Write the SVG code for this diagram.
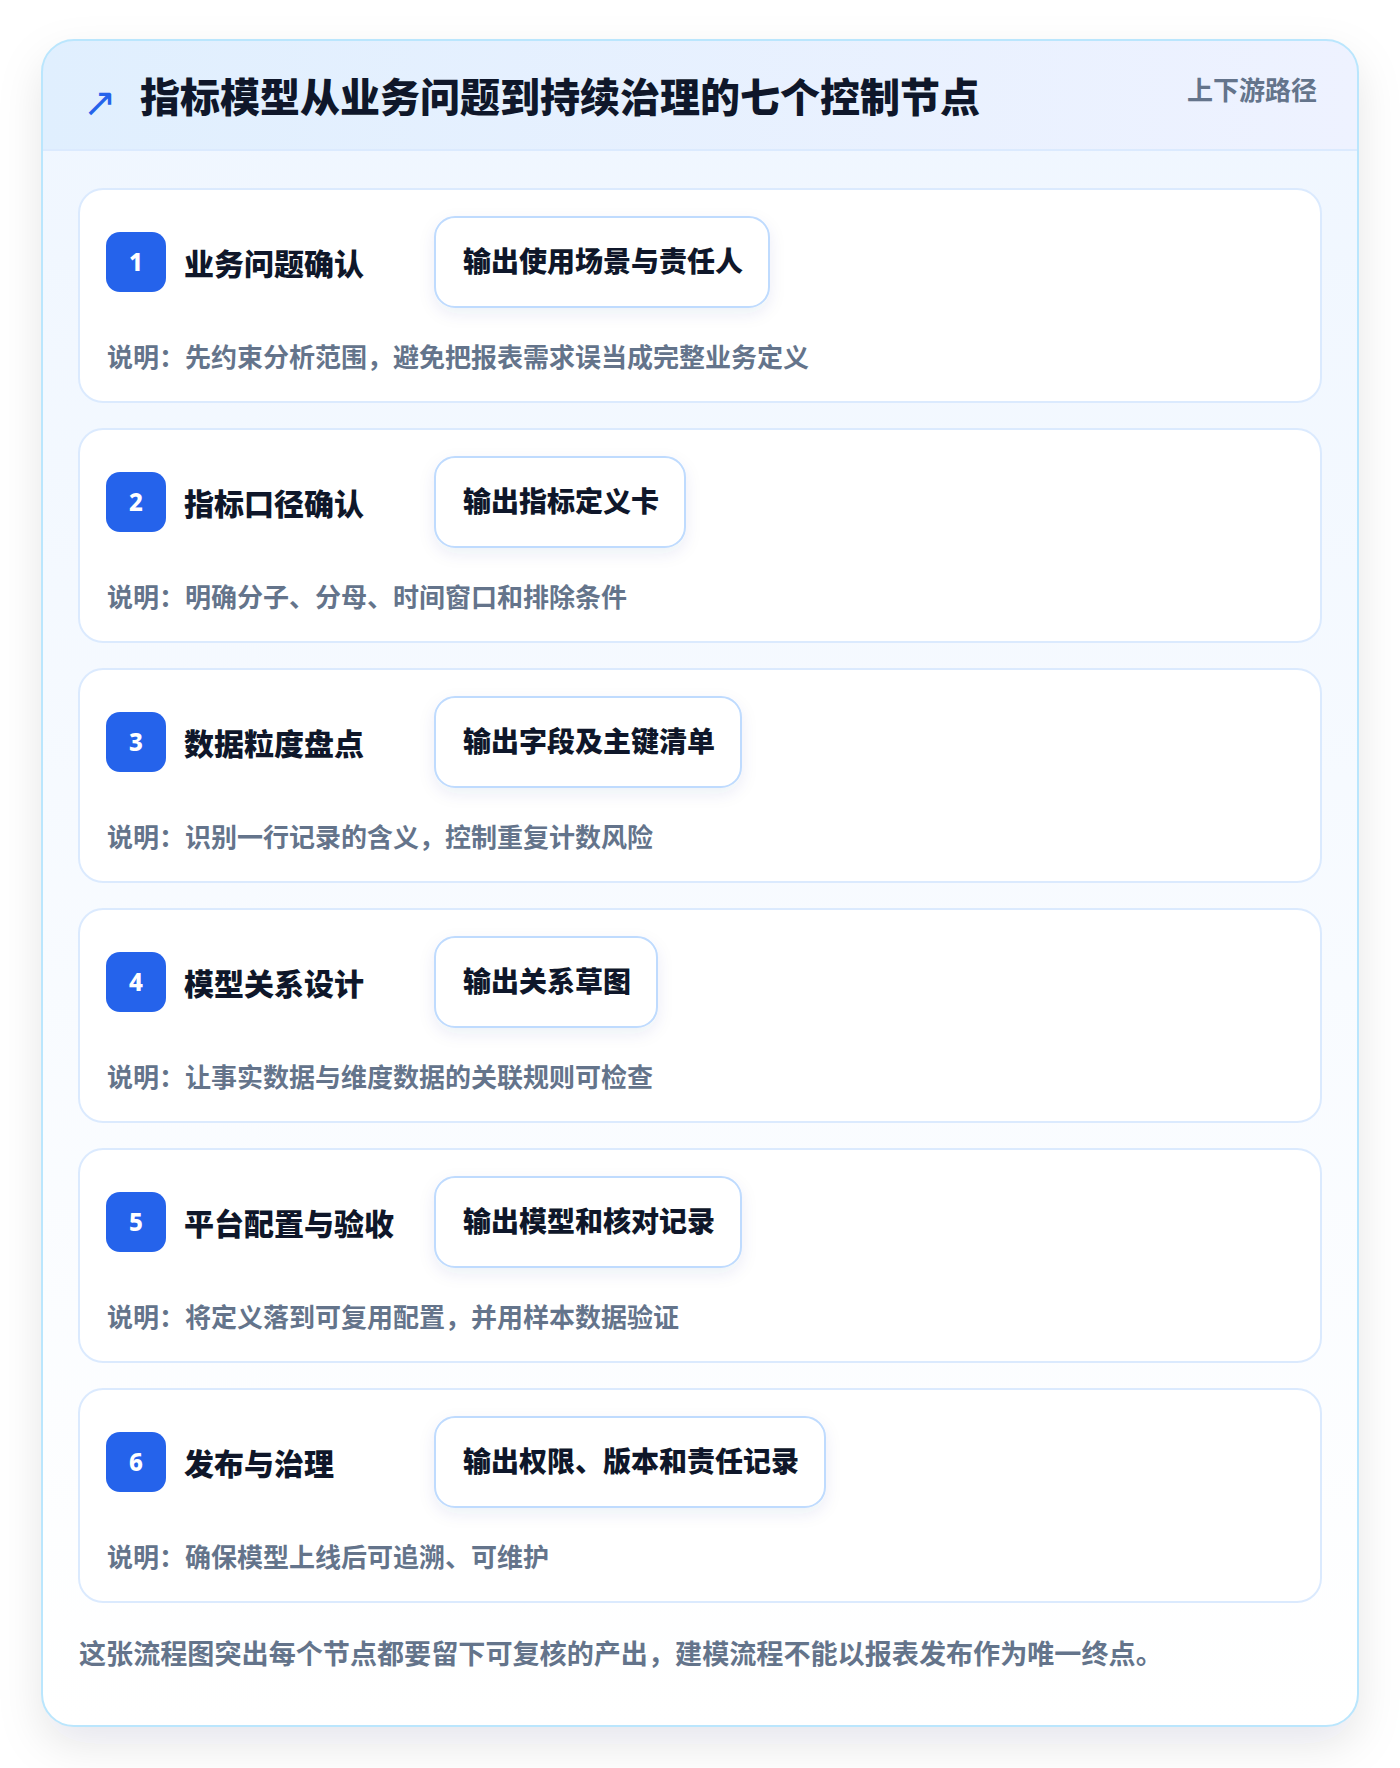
<svg xmlns="http://www.w3.org/2000/svg" width="1400" height="1768" viewBox="0 0 1400 1768">
<defs>
<linearGradient id="hdr" x1="0" y1="0" x2="1" y2="0">
<stop offset="0" stop-color="#e0effe"/>
<stop offset="1" stop-color="#eef2ff"/>
</linearGradient>
<linearGradient id="body" x1="0" y1="0" x2="0" y2="1">
<stop offset="0" stop-color="#eff6ff"/>
<stop offset="1" stop-color="#ffffff"/>
</linearGradient>
<filter id="cardShadow" x="-10%" y="-10%" width="120%" height="125%">
<feDropShadow dx="0" dy="18" stdDeviation="22" flood-color="#0f172a" flood-opacity="0.10"/>
</filter>
<filter id="pillShadow" x="-20%" y="-30%" width="140%" height="180%">
<feDropShadow dx="0" dy="6" stdDeviation="8" flood-color="#1e3a8a" flood-opacity="0.08"/>
</filter>
<clipPath id="cardClip"><rect x="42" y="40" width="1316" height="1686" rx="32"/></clipPath>
</defs>
<style>
text{font-family:"Noto Sans CJK SC","Noto Sans",sans-serif;font-weight:700}
.title{font-size:40px;fill:#0f172a;font-weight:900}
.tag{font-size:26px;fill:#64748b}
.step{fill:#ffffff;stroke:#dbeafe;stroke-width:2}
.badge{fill:#2563eb}
.num{font-size:24px;fill:#ffffff;text-anchor:middle;font-family:"Noto Sans","DejaVu Sans",sans-serif;font-weight:800}
.label{font-size:30px;fill:#0f172a;font-weight:800}
.pill{fill:#ffffff;stroke:#bfdbfe;stroke-width:2}
.ptext{font-size:28px;fill:#0f172a;font-weight:800}
.desc{font-size:26px;fill:#64748b}
.foot{font-size:27.1px;fill:#64748b}
</style>
<rect x="0" y="0" width="1400" height="1768" fill="#ffffff"/>
<g id="frame">
<rect x="42" y="40" width="1316" height="1686" rx="32" fill="url(#body)" filter="url(#cardShadow)"/>
<g clip-path="url(#cardClip)">
<rect x="42" y="40" width="1316" height="110" fill="url(#hdr)"/>
<line x1="42" y1="150" x2="1358" y2="150" stroke="#dbeafe" stroke-width="2"/>
</g>
<rect x="42" y="40" width="1316" height="1686" rx="32" fill="none" stroke="#bae6fd" stroke-width="2"/>
</g>
<g id="header">
<text x="83" y="116" font-size="40" fill="#2563eb" style="font-family:'DejaVu Sans',sans-serif;font-weight:400">↗</text>
<text class="title" x="140" y="112">指标模型从业务问题到持续治理的七个控制节点</text>
<text class="tag" x="1317" y="100" text-anchor="end">上下游路径</text>
</g>
<g id="step1">
<rect class="step" x="79" y="189" width="1242" height="213" rx="24"/>
<rect class="badge" x="106" y="232" width="60" height="60" rx="14"/>
<text class="num" x="136" y="271">1</text>
<text class="label" x="184" y="275">业务问题确认</text>
<rect class="pill" x="435" y="217" width="334" height="90" rx="20" filter="url(#pillShadow)"/>
<text class="ptext" x="463" y="272">输出使用场景与责任人</text>
<text class="desc" x="107" y="367">说明：先约束分析范围，避免把报表需求误当成完整业务定义</text>
</g>
<g id="step2">
<rect class="step" x="79" y="429" width="1242" height="213" rx="24"/>
<rect class="badge" x="106" y="472" width="60" height="60" rx="14"/>
<text class="num" x="136" y="511">2</text>
<text class="label" x="184" y="515">指标口径确认</text>
<rect class="pill" x="435" y="457" width="250" height="90" rx="20" filter="url(#pillShadow)"/>
<text class="ptext" x="463" y="512">输出指标定义卡</text>
<text class="desc" x="107" y="607">说明：明确分子、分母、时间窗口和排除条件</text>
</g>
<g id="step3">
<rect class="step" x="79" y="669" width="1242" height="213" rx="24"/>
<rect class="badge" x="106" y="712" width="60" height="60" rx="14"/>
<text class="num" x="136" y="751">3</text>
<text class="label" x="184" y="755">数据粒度盘点</text>
<rect class="pill" x="435" y="697" width="306" height="90" rx="20" filter="url(#pillShadow)"/>
<text class="ptext" x="463" y="752">输出字段及主键清单</text>
<text class="desc" x="107" y="847">说明：识别一行记录的含义，控制重复计数风险</text>
</g>
<g id="step4">
<rect class="step" x="79" y="909" width="1242" height="213" rx="24"/>
<rect class="badge" x="106" y="952" width="60" height="60" rx="14"/>
<text class="num" x="136" y="991">4</text>
<text class="label" x="184" y="995">模型关系设计</text>
<rect class="pill" x="435" y="937" width="222" height="90" rx="20" filter="url(#pillShadow)"/>
<text class="ptext" x="463" y="992">输出关系草图</text>
<text class="desc" x="107" y="1087">说明：让事实数据与维度数据的关联规则可检查</text>
</g>
<g id="step5">
<rect class="step" x="79" y="1149" width="1242" height="213" rx="24"/>
<rect class="badge" x="106" y="1192" width="60" height="60" rx="14"/>
<text class="num" x="136" y="1231">5</text>
<text class="label" x="184" y="1235">平台配置与验收</text>
<rect class="pill" x="435" y="1177" width="306" height="90" rx="20" filter="url(#pillShadow)"/>
<text class="ptext" x="463" y="1232">输出模型和核对记录</text>
<text class="desc" x="107" y="1327">说明：将定义落到可复用配置，并用样本数据验证</text>
</g>
<g id="step6">
<rect class="step" x="79" y="1389" width="1242" height="213" rx="24"/>
<rect class="badge" x="106" y="1432" width="60" height="60" rx="14"/>
<text class="num" x="136" y="1471">6</text>
<text class="label" x="184" y="1475">发布与治理</text>
<rect class="pill" x="435" y="1417" width="390" height="90" rx="20" filter="url(#pillShadow)"/>
<text class="ptext" x="463" y="1472">输出权限、版本和责任记录</text>
<text class="desc" x="107" y="1567">说明：确保模型上线后可追溯、可维护</text>
</g>
<g id="connectors"></g>
<g id="footer">
<text class="foot" x="79" y="1664">这张流程图突出每个节点都要留下可复核的产出，建模流程不能以报表发布作为唯一终点。</text>
</g>
</svg>
